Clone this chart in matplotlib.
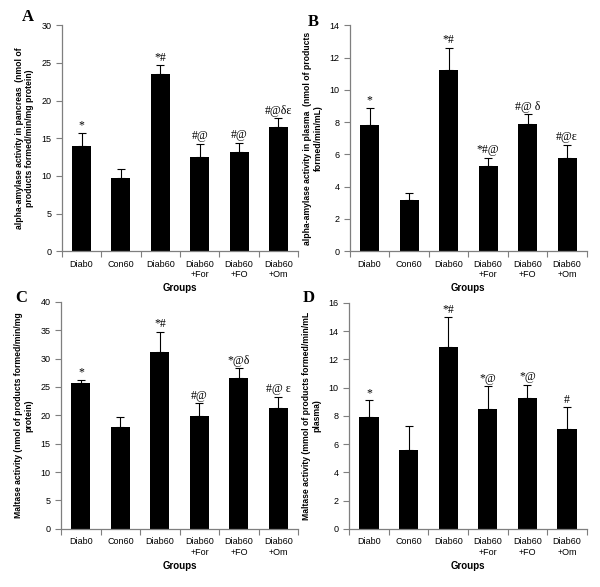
import numpy as np
import matplotlib.pyplot as plt
from matplotlib.ticker import FixedLocator

groups = ['Diab0', 'Con60', 'Diab60', 'Diab60\n+For', 'Diab60\n+FO', 'Diab60\n+Om']

# panel A: alpha-amylase, pancreas
amy_panc = [14.0, 9.7, 23.5, 12.5, 13.2, 16.5]
amy_panc_err = [1.7, 1.2, 1.2, 1.8, 1.2, 1.2]
amy_panc_sig = ['*', '', '*#', '#@', '#@', '#@δε']

# panel B: alpha-amylase, plasma
amy_plas = [7.8, 3.2, 11.2, 5.3, 7.9, 5.8]
amy_plas_err = [1.1, 0.4, 1.4, 0.5, 0.6, 0.8]
amy_plas_sig = ['*', '', '*#', '*#@', '#@ δ', '#@ε']

# panel C: maltase, pancreas
malt_panc = [25.6, 17.9, 31.2, 19.8, 26.5, 21.2]
malt_panc_err = [0.6, 1.8, 3.5, 2.3, 1.8, 2.1]
malt_panc_sig = ['*', '', '*#', '#@', '*@δ', '#@ ε']

# panel D: maltase, plasma
malt_plas = [7.9, 5.6, 12.9, 8.5, 9.3, 7.1]
malt_plas_err = [1.2, 1.7, 2.1, 1.6, 0.9, 1.5]
malt_plas_sig = ['*', '', '*#', '*@', '*@', '#']

panels = [
    ('A', amy_panc, amy_panc_err, amy_panc_sig, 30, 5,
     'alpha-amylase activity in pancreas  (nmol of\nproducts formed/min/mg protein)',
     [0.103, 0.572, 0.394, 0.385], (0.037, 0.971)),
    ('B', amy_plas, amy_plas_err, amy_plas_sig, 14, 2,
     'alpha-amylase activity in plasma  (nmol of products\nformed/min/mL)',
     [0.583, 0.572, 0.395, 0.385], (0.513, 0.962)),
    ('C', malt_panc, malt_panc_err, malt_panc_sig, 40, 5,
     'Maltase activity (nmol of products formed/min/mg\nprotein)',
     [0.102, 0.099, 0.395, 0.387], (0.025, 0.492)),
    ('D', malt_plas, malt_plas_err, malt_plas_sig, 16, 2,
     'Maltase activity (mmol of products formed/min/mL\nplasma)',
     [0.582, 0.099, 0.396, 0.385], (0.505, 0.492)),
]

sans = 'Liberation Sans'
serif = 'Liberation Serif'
axis_grey = '#7f7f7f'

fig = plt.figure(figsize=(6, 5.87), dpi=100)

for letter, vals, errs, sig, ymax, step, ylabel, rect, lpos in panels:
    ax = fig.add_axes(rect)
    x = np.arange(len(groups))
    ax.bar(x, vals, width=0.48, color='black', zorder=2)
    ax.errorbar(x, vals, yerr=[np.zeros(len(errs)), errs], fmt='none',
                ecolor='black', elinewidth=0.8, capsize=3, capthick=0.8, zorder=3)
    for xi, v, e, s in zip(x, vals, errs, sig):
        if s:
            ax.text(xi, v + e + ymax * 0.006, s, ha='center', va='bottom',
                    family=serif, fontsize=8.5)

    ax.set_xlim(-0.5, len(groups) - 0.5)
    ax.set_ylim(0, ymax)
    ax.set_yticks(np.arange(0, ymax + 0.1, step))
    ax.set_xticks(x)
    ax.set_xticklabels(groups, family=sans, fontsize=6.5)
    ax.xaxis.set_minor_locator(FixedLocator(np.arange(-0.5, len(groups), 1.0)))
    ax.tick_params(axis='x', which='major', length=0, pad=6)
    ax.tick_params(axis='x', which='minor', length=4, direction='out', width=0.8,
                   color=axis_grey)
    ax.tick_params(axis='y', length=4, direction='out', width=0.8, labelsize=6.5,
                   color=axis_grey)
    for lab in ax.get_yticklabels():
        lab.set_family(sans)
    ax.spines['top'].set_visible(False)
    ax.spines['right'].set_visible(False)
    for side in ['left', 'bottom']:
        ax.spines[side].set_linewidth(0.9)
        ax.spines[side].set_color(axis_grey)

    ax.set_ylabel(ylabel, family=sans, fontsize=6.2, fontweight='bold', labelpad=5)
    ax.set_xlabel('Groups', family=sans, fontsize=7, fontweight='bold', labelpad=3)
    fig.text(lpos[0], lpos[1], letter, family=serif, fontsize=12,
             fontweight='bold', ha='left', va='center')

fig.savefig('out.png', dpi=100)
